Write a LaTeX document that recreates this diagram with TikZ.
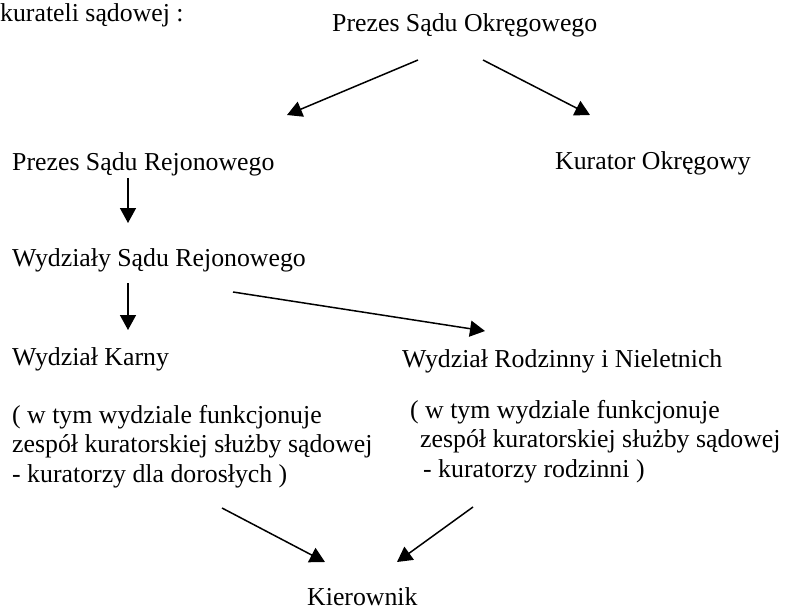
\documentclass[tikz,border=0pt]{standalone}
\usepackage{fontspec}
\setmainfont{Liberation Serif}
\usepackage{tikz}
\usetikzlibrary{arrows.meta,positioning}

\begin{document}
\begin{tikzpicture}[x=1pt,y=-1pt,%
    pil/.style={line width=1.5pt,-{Triangle[length=15pt,width=16pt]}}]%
            \useasboundingbox (0,0) rectangle (795,610); %%
            \begin{scope}[font=\fontsize{25.8}{29.5}\selectfont]%
            \tikzstyle{every node}=[anchor=base west,inner sep=0pt,align=left] %%
            \node (kur) at (0,22)  {kurateli sądowej :}; %%
            \node (pso) at (332,32)  {Prezes Sądu Okręgowego}; %%
            \node (psr) at (12,170)  {Prezes Sądu Rejonowego}; %%
            \node (ko) at (555,169)  {Kurator Okręgowy}; %%
            \node (wsr) at (12,266)  {Wydziały Sądu Rejonowego}; %%
            \node (wk) at (12,365)  {Wydział Karny}; %%
            \node (wrn) at (402,367)  {Wydział Rodzinny i Nieletnich}; %%
            \node (opk) at (12,482)  {( w tym wydziale funkcjonuje\\zespół kuratorskiej służby sądowej\\- kuratorzy dla dorosłych )}; %%
            \node (opr) at (410,477)  {( w tym wydziale funkcjonuje\\\hspace{10pt}zespół kuratorskiej służby sądowej\\\hspace{13pt}- kuratorzy rodzinni )}; %%
            \node (kier) at (307,605)  {Kierownik}; %%
            \end{scope}
            \draw[pil] ([shift={(86,28)}]pso.base west)--([shift={(275,-55)}]psr.base west); %%
            \draw[pil] ([shift={(151,28)}]pso.base west)--([shift={(35,-54)}]ko.base west); %%
            \draw[pil] ([shift={(116,8)}]psr.base west)--([shift={(116,-43)}]wsr.base west); %%
            \draw[pil] ([shift={(116,17)}]wsr.base west)--([shift={(116,-35)}]wk.base west); %%
            \draw[pil] ([shift={(221,26)}]wsr.base west)--([shift={(83,-36)}]wrn.base west); %%
            \draw[pil] ([shift={(210,26)}]opk.base west)--([shift={(18,-43)}]kier.base west); %%
            \draw[pil] ([shift={(63,30)}]opr.base west)--([shift={(90,-43)}]kier.base west); %%
        \end{tikzpicture}
\end{document}
